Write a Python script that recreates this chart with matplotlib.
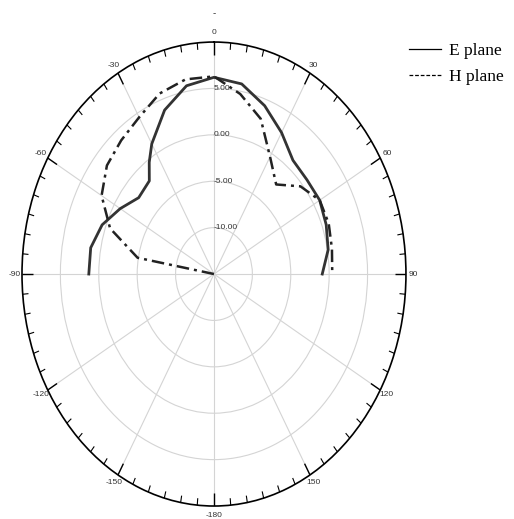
import numpy as np
import matplotlib
matplotlib.use("Agg")
import matplotlib.pyplot as plt
from matplotlib.lines import Line2D

# Data (angle in degrees, gain in dB)
e_angles = [-90, -80, -70, -60, -50, -40, -35, -30, -20, -10, 0, 10, 20, 30, 40, 50, 60, 70, 80, 90]
e_values = [1.3, 1.3, 0.5, -0.9, -2.2, -1.9, -0.3, 1.2, 3.8, 5.6, 6.2, 5.8, 4.3, 2.6, 1.0, 0.8, 0.9, 0.55, 0.1, -0.9]

h_angles = [-90, -80, -70, -60, -50, -40, -30, -20, -10, 0, 10, 20, 30, 40, 50, 60, 70, 80, 90]
h_values = [-15, -4.9, -0.6, 1.9, 3.2, 3.8, 4.5, 5.7, 6.3, 6.3, 4.7, 2.8, -0.4, -2.4, -0.3, 0.9, 0.9, 0.6, 0.4]

r_ticks = [-10, -5, 0, 5]
theta_ticks = list(range(0, 360, 30))
theta_labels = ["0", "30", "60", "90", "120", "150", "-180", "-150", "-120", "-90", "-60", "-30"]

R_MIN, R_MAX = -15, 10

fig = plt.figure(figsize=(5.14, 5.19), dpi=100)
ax = fig.add_axes([0.0428, 0.025, 0.747, 0.894], projection='polar')
ax.set_aspect('auto')
ax.set_theta_zero_location('N')
ax.set_theta_direction(-1)
ax.set_ylim(R_MIN, R_MAX)
ax.set_yticks(r_ticks)
ax.set_yticklabels([])
ax.set_xticks(np.deg2rad(theta_ticks))
ax.set_xticklabels([])
ax.tick_params(axis='x', which='major', length=0)
ax.grid(True, color='#d4d4d4', linewidth=0.8)
ax.spines['polar'].set_linewidth(1.2)
ax.spines['polar'].set_color('black')

# tick marks on the outer ring (pointing inward)
for deg in range(0, 360, 5):
    length = 1.4 if deg % 30 == 0 else 0.75
    th = np.deg2rad(deg)
    ax.plot([th, th], [R_MAX - length, R_MAX], color='black',
            linewidth=1.0 if deg % 30 == 0 else 0.8, solid_capstyle='butt', zorder=3)

# angle labels just outside the ring
for deg, lab in zip(theta_ticks, theta_labels):
    ax.text(np.deg2rad(deg), R_MAX + 1.0, lab, ha='center', va='center', fontsize=6,
            color='#333333', fontfamily='Liberation Sans', clip_on=False)

for r in r_ticks:
    ax.text(0, r, f"{r:.2f}", ha='left', va='center', fontsize=6,
            color='#333333', fontfamily='Liberation Sans')

ax.plot(np.deg2rad(e_angles), e_values, color='#333333', linewidth=2.0, zorder=4)
ax.plot(np.deg2rad(h_angles), h_values, color='#222222', linewidth=1.8,
        linestyle=(0, (5, 2, 1.2, 2)), zorder=4)
ax.set_ylim(R_MIN, R_MAX)

fig.text(214 / 514, 1 - 13 / 519, "-", ha='center', va='center', fontsize=7,
         color='#333333', fontfamily='Liberation Sans')

handles = [Line2D([], [], color='black', linewidth=0.9, linestyle='-'),
           Line2D([], [], color='black', linewidth=0.9, linestyle=(0, (3, 1.5)))]
fig.legend(handles, ["E plane", "H plane"], loc='upper left',
           bbox_to_anchor=(400 / 514, 1 - 34 / 519), frameon=False,
           prop={'family': 'Liberation Serif', 'size': 12.5},
           handlelength=1.85, handletextpad=0.45, labelspacing=0.6, borderpad=0)

fig.savefig("out.png", dpi=100)
